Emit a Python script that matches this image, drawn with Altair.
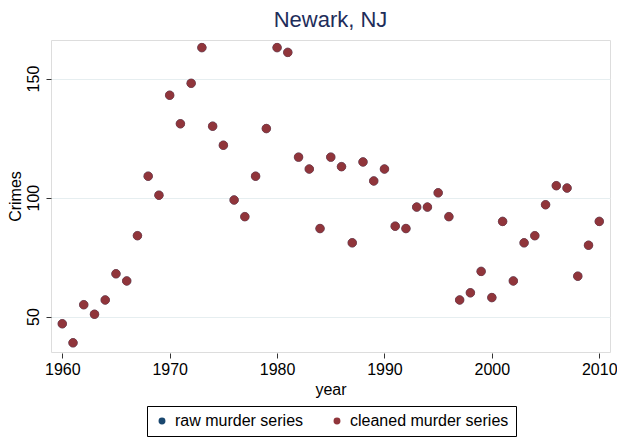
import altair as alt
import pandas as pd

years = list(range(1960, 2011))
cleaned = [47, 39, 55, 51, 57, 68, 65, 84, 109, 101,
           143, 131, 148, 163, 130, 122, 99, 92, 109, 129,
           163, 161, 117, 112, 87, 117, 113, 81, 115, 107,
           112, 88, 87, 96, 96, 102, 92, 57, 60, 69,
           58, 90, 65, 81, 84, 97, 105, 104, 67, 80,
           90]
raw = list(cleaned)

series_names = ["raw murder series", "cleaned murder series"]
series_colors = ["#1a476f", "#90353b"]

rows = []
for name, vals in zip(series_names, [raw, cleaned]):
    for yr, v in zip(years, vals):
        rows.append({"year": yr, "Crimes": v, "series": name})
df = pd.DataFrame(rows)

FONT = "Liberation Sans"

chart = alt.Chart(df).mark_point(filled=True, size=72, opacity=1, strokeWidth=0.6).encode(
    x=alt.X("year:Q",
            scale=alt.Scale(domain=[1958.95, 2011.0], nice=False, zero=False),
            axis=alt.Axis(values=[1960, 1970, 1980, 1990, 2000, 2010], format="d", grid=False,
                          domain=False, tickSize=5, tickColor="#333333", offset=1,
                          labelPadding=3, labelFontSize=16, labelColor="black",
                          titleFontSize=16, titleFontWeight="normal", titleColor="black",
                          titlePadding=4, labelFont=FONT, titleFont=FONT)),
    y=alt.Y("Crimes:Q",
            scale=alt.Scale(domain=[35.14, 166.2], nice=False, zero=False),
            axis=alt.Axis(values=[50, 100, 150], grid=True, gridColor="#e6eef0",
                          gridWidth=1.2, domain=False, tickSize=5, tickColor="#333333",
                          labelAngle=270, labelAlign="center", labelBaseline="bottom",
                          labelPadding=5, labelFontSize=16, labelColor="black",
                          titleFontSize=16, titleFontWeight="normal", titleColor="black",
                          titlePadding=2, labelFont=FONT, titleFont=FONT)),
    color=alt.Color("series:N",
                    scale=alt.Scale(domain=series_names, range=series_colors),
                    legend=alt.Legend(title=None, orient="none", legendX=96, legendY=366,
                                      direction="horizontal",
                                      symbolType="circle", symbolSize=48,
                                      symbolStrokeWidth=0, labelFontSize=16,
                                      labelFont=FONT, labelColor="black",
                                      labelOffset=5, columnPadding=25,
                                      padding=7, strokeColor="black",
                                      fillColor="white")),
    stroke=alt.Color("series:N", scale=alt.Scale(domain=series_names, range=series_colors),
                     legend=None),
    order=alt.Order("order_key:Q"),
).transform_calculate(
    order_key="datum.series == 'raw murder series' ? 0 : 1"
).properties(
    width=559, height=312,
    title=alt.Title("Newark, NJ", fontSize=22, font=FONT, fontWeight="normal",
                    color="#1e2d5a", anchor="middle", offset=8),
    autosize=alt.AutoSizeParams(type="none"),
    padding={"left": 43, "top": 32, "right": 7, "bottom": 86},
).configure_view(stroke=None).configure(background="white")

chart.save("out.html", embed_options={"renderer": "svg", "actions": False})
